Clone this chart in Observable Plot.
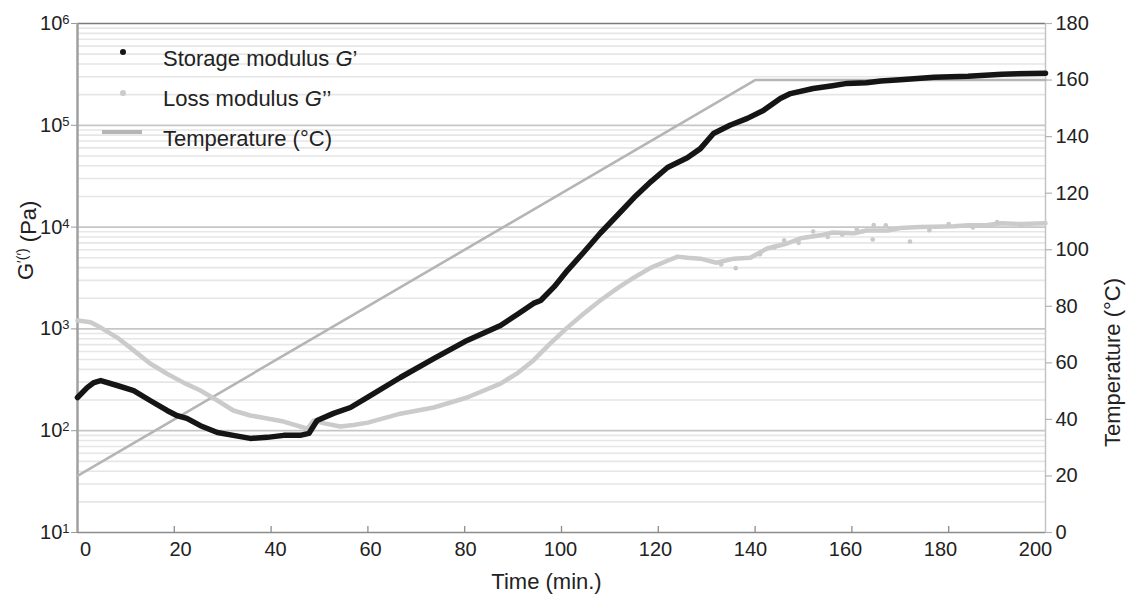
<!DOCTYPE html>
<html>
<head>
<meta charset="utf-8">
<script src="https://cdn.jsdelivr.net/npm/d3@7"></script>
<script src="https://cdn.jsdelivr.net/npm/@observablehq/plot@0.6"></script>
<style>
  body { margin: 0; background: #fff; }
  #chart svg { font-family: "Liberation Sans", Arial, sans-serif; }
</style>
</head>
<body>
<div id="chart"></div>
<script>
// ---- data ----
const timeStorage = [0,2,3.4,4.8,8.2,11.6,15,18.5,20.5,22.6,25.4,28.9,32.2,35.7,39.2,42.6,46,47.8,49.5,52.9,56.4,59.9,66.7,73.6,80.5,87.4,91,94.2,95.7,98.5,101.2,104.5,108,111.5,115,118.5,121.9,124,126,128.7,131.4,134.8,138.4,141.7,145.2,147.3,152,156,159,163,166,170,177,184,191,200];
const storageModulus = [212,265,297,311,278,248,198,158,141,132,112,96,90,84,86,90,90,94,126,148,169,212,333,510,770,1080,1400,1780,1900,2600,3740,5600,8700,13000,19500,28000,38500,43100,48000,59000,83000,100000,117000,140000,183000,205000,230000,245000,258000,262000,272000,280000,296000,303000,318000,325000];

const timeLoss = [0,2.7,4.8,8.2,11.6,15,18.5,22,25.4,28.9,32.2,35.7,39.2,42.6,46,47.5,48.8,51,54.3,57,60,66.7,73.6,80.5,87.4,91,94.2,97.7,101.2,104.5,108,111.5,115,118.5,122,124,126,128.7,132,135.6,139,142.5,146.6,149.4,153.5,156,160.4,163,167.4,170,174,177,181,184,188,191,195,200];
const lossModulus = [1210,1160,1030,822,615,457,363,295,248,198,158,141,132,123,110,105,126,118,110,114,120,147,169,212,290,370,490,720,1030,1400,1900,2500,3200,4000,4700,5130,5000,4900,4470,4900,5000,6170,6900,7760,8300,8850,8700,9270,9260,9800,10000,10100,10200,10400,10500,10900,10700,10900];

const timeLossScatter = [133,136,141,144,146,149,152,155,158,161,164.3,164.5,167,172,176,180,185,190,195];
const lossScatter = [4300,3950,5400,6300,7400,7000,9060,8000,8400,9600,7550,10500,10400,7200,9300,10700,9900,11200,10300];

const timeTemperature = [0,140,200];
const temperature = [20,160,160];

const xTicks = [0,20,40,60,80,100,120,140,160,180,200];
const leftTicks = [10,100,1000,10000,100000,1000000];
const rightTicks = [0,20,40,60,80,100,120,140,160,180];
const legendLabels = ["Storage modulus ", "Loss modulus ", "Temperature (°C)"];

// temperature axis (0..180 °C) shares the frame with the log modulus axis (10..1e6 Pa)
const T2G = T => Math.pow(10, 1 + T / 180 * 5);

const storage = timeStorage.map((t, i) => ({t, v: storageModulus[i]}));
const loss = timeLoss.map((t, i) => ({t, v: lossModulus[i]}));
const lossPts = timeLossScatter.map((t, i) => ({t, v: lossScatter[i]}));
const temp = timeTemperature.map((t, i) => ({t, T: temperature[i]}));

const decades = leftTicks.slice(1, -1);
const minor = [];
for (let d = 10; d < 1e6; d *= 10) for (let k = 2; k <= 9; k++) minor.push(k * d);

const W = 1126, H = 597, mL = 77, mR = 81, mT = 23, mB = 65;
const frameH = H - mT - mB, frameW = W - mL - mR;

// x tick labels in the reference drift slightly inward toward the ends
const xLabelAxes = xTicks.map(t =>
  Plot.axisX([t], {tickSize: 0, tickPadding: 9, fontSize: 20, dx: 8 - 0.09 * t, tickFormat: d => d}));

const chart = Plot.plot({
  width: W, height: H,
  marginLeft: mL, marginRight: mR, marginTop: mT, marginBottom: mB,
  style: {fontFamily: "Liberation Sans, Arial, sans-serif", fontSize: "20px", color: "#222", background: "#fff"},
  x: {domain: [0, 200], label: null},
  y: {type: "log", domain: [10, 1e6], label: null},
  marks: [
    Plot.ruleY(minor, {stroke: "#e6e6e6", strokeWidth: 1.6}),
    Plot.ruleY(decades, {stroke: "#c6c6c6", strokeWidth: 1.8}),
    Plot.ruleY([1e6], {stroke: "#7a7a7a", strokeWidth: 1.5}),
    Plot.ruleX([200], {stroke: "#c4c4c4", strokeWidth: 1.5}),
    Plot.ruleY([10], {stroke: "#8c8c8c", strokeWidth: 1.6}),
    Plot.ruleX([0], {stroke: "#a0a0a0", strokeWidth: 2.5}),
    Plot.tickX(xTicks.slice(1, -1), {x: d => d, insetTop: frameH - 6, stroke: "#8c8c8c", strokeWidth: 1.3}),
    Plot.line(temp, {x: "t", y: d => T2G(d.T), stroke: "#b5b5b5", strokeWidth: 2.6}),
    Plot.line(loss, {x: "t", y: "v", stroke: "#cbcbcb", strokeWidth: 4.5}),
    Plot.dot(lossPts, {x: "t", y: "v", r: 2.3, fill: "#c9c9c9"}),
    Plot.line(storage, {x: "t", y: "v", stroke: "#151515", strokeWidth: 5.5}),
    ...xLabelAxes,
    Plot.axisY({ticks: leftTicks, anchor: "left", tickSize: 6, tickPadding: 2, stroke: "#9a9a9a", fontSize: 20,
      tickFormat: d => "10^" + Math.round(Math.log10(d))}),
    // right (temperature) axis: ticks and labels placed through the y scale
    Plot.tickY(rightTicks, {y: T2G, insetLeft: frameW, insetRight: -7, stroke: "#b4b4b4", strokeWidth: 1.2}),
    Plot.text(rightTicks, {y: T2G, text: d => String(d), frameAnchor: "right", dx: 10, textAnchor: "start", fontSize: 20, fill: "#222"}),
    Plot.text(["Time (min.)"], {frameAnchor: "bottom", dx: -15, dy: 56, fontSize: 22, fill: "#222"}),
    Plot.text(["Temperature (°C)"], {frameAnchor: "right", dx: 67, rotate: -90, fontSize: 22, fill: "#222"}),
    Plot.text(["G′(′) (Pa)"], {frameAnchor: "left", dx: -52, dy: 2, rotate: -90, fontSize: 22, fill: "#222"})
  ]
});

document.getElementById("chart").appendChild(chart);
const svg = d3.select(chart);

// superscript exponents on the log tick labels
svg.selectAll("text").filter(function() { return this.textContent.startsWith("10^"); }).each(function() {
  const [base, exp] = this.textContent.split("^");
  const t = d3.select(this);
  t.text(null);
  t.append("tspan").text(base);
  t.append("tspan").attr("font-size", 13).attr("dy", "-0.45em").text(exp);
});

// left axis title with superscript primes
svg.selectAll("text").filter(function() { return this.textContent === "G′(′) (Pa)"; }).each(function() {
  const t = d3.select(this);
  t.text(null);
  t.append("tspan").text("G");
  t.append("tspan").attr("font-size", 14).attr("dy", "-0.42em").text("′(′)");
  t.append("tspan").attr("dy", "0.42em").text(" (Pa)");
});

// legend
const lg = svg.append("g").attr("font-size", 22).attr("fill", "#222").attr("text-anchor", "start");
lg.append("circle").attr("cx", 123).attr("cy", 52).attr("r", 3).attr("fill", "#151515");
lg.append("circle").attr("cx", 123).attr("cy", 93).attr("r", 3).attr("fill", "#cbcbcb");
lg.append("line").attr("x1", 102).attr("x2", 142).attr("y1", 132).attr("y2", 132)
  .attr("stroke", "#b5b5b5").attr("stroke-width", 4);
const t1 = lg.append("text").attr("x", 163).attr("y", 66);
t1.append("tspan").text(legendLabels[0]);
t1.append("tspan").attr("font-style", "italic").text("G");
t1.append("tspan").text("’");
const t2 = lg.append("text").attr("x", 163).attr("y", 106);
t2.append("tspan").text(legendLabels[1]);
t2.append("tspan").attr("font-style", "italic").text("G");
t2.append("tspan").text("’’");
lg.append("text").attr("x", 163).attr("y", 146).text(legendLabels[2]);
</script>
</body>
</html>
